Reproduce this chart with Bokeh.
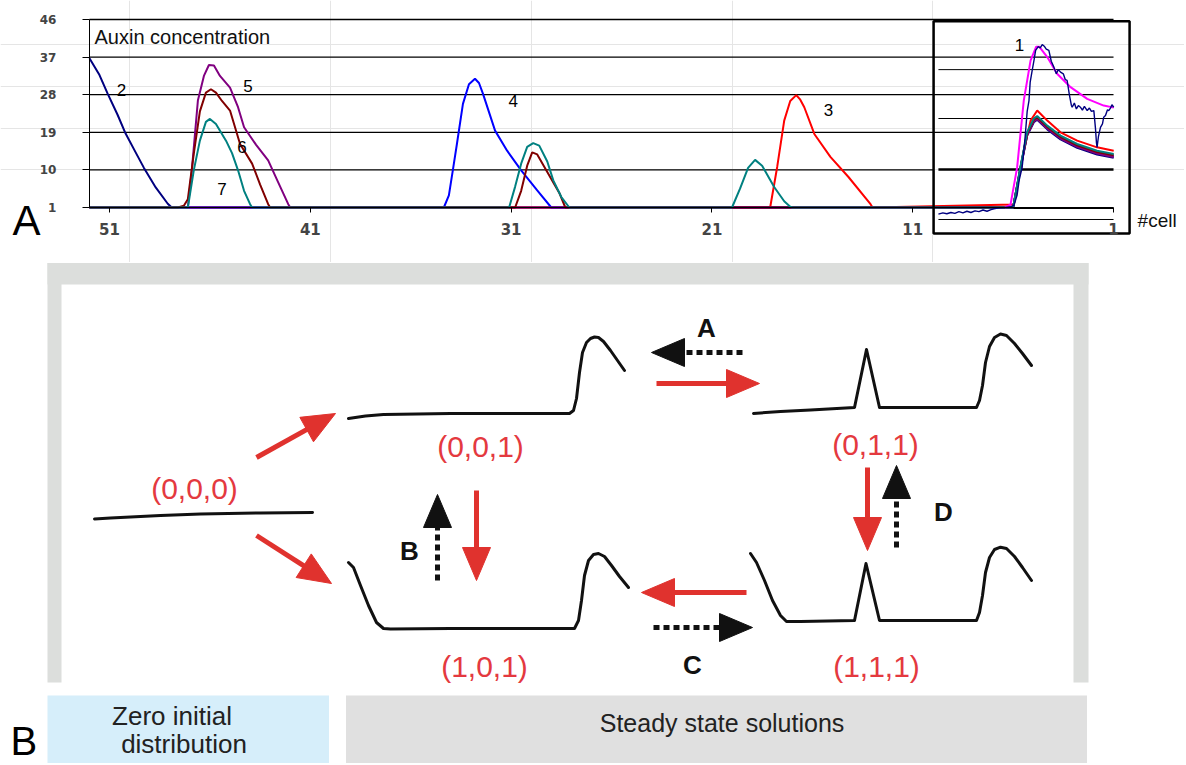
import math
from bokeh.plotting import figure
from bokeh.models import Range1d, LinearAxis, FixedTicker
from bokeh.layouts import column
from bokeh.core.properties import value
from bokeh.embed import file_html
from bokeh.resources import INLINE

FONT = "Liberation Sans"

# ---------------- Panel A : auxin concentration along the cell file ----------------
y_ticks = [1, 10, 19, 28, 37, 46]
x_ticks = [51, 41, 31, 21, 11, 1]

# simulated profiles (cell index, concentration)
cell_navy = [52.0, 51.5, 51.1, 50.6, 50.2, 49.7, 49.3, 48.7, 48.1, 47.9]
conc_navy = [36.7, 32.7, 28.3, 23.2, 18.7, 14.2, 10.6, 5.8, 1.9, 1.0]

cell_purple = [52.0, 47.1, 46.9, 46.6, 46.3, 46.05, 45.8, 45.5, 45.0, 44.6, 44.3, 43.7, 43.1, 42.6, 42.1, 42.0]
conc_purple = [1, 1, 10, 26.6, 32.5, 35.1, 35.0, 32.5, 29.7, 25.0, 20.2, 16.0, 12.3, 7.0, 1.8, 1.0]

cell_darkred = [52.0, 47.6, 47.3, 47.1, 46.8, 46.5, 46.2, 45.95, 45.7, 45.4, 45.0, 44.5, 43.9, 43.5, 43.1, 43.0,
                30.8, 30.5, 30.2, 29.95, 29.7, 29.2, 28.6, 28.3]
conc_darkred = [1, 1, 1.4, 3, 14, 24, 28.5, 29.3, 28.5, 26.5, 24.2, 16.2, 11.5, 6.5, 1.8, 1,
                1, 5, 11, 14.2, 13.7, 9.5, 4.5, 1]

cell_teal = [52.0, 47.1, 46.8, 46.5, 46.2, 46.0, 45.7, 45.2, 44.9, 44.6, 44.3, 44.0, 43.9,
             31.1, 30.8, 30.5, 30.2, 29.9, 29.6, 29.2, 28.9, 28.5, 28.1,
             20.0, 19.6, 19.2, 18.85, 18.5, 17.9, 17.4, 17.1, 17.0]
conc_teal = [1, 1, 10, 17, 21.5, 22.2, 21, 17, 14, 9.9, 5, 1.8, 1,
             1, 6, 11.5, 15.5, 16.4, 15.8, 12, 7.5, 3.5, 1,
             1, 5.5, 10.5, 12.4, 11, 5.9, 2.5, 1.2, 1]

cell_blue = [52.0, 34.35, 34.1, 33.9, 33.7, 33.4, 33.1, 32.8, 32.6, 32.4, 31.8, 31.2, 30.5, 29.7, 29.0]
conc_blue = [1, 1, 3.9, 10, 16.2, 25.8, 30.5, 31.8, 30.8, 28.2, 19.4, 14.6, 9.9, 5.1, 1]

cell_red = [52.0, 18.1, 17.75, 17.4, 17.1, 16.8, 16.6, 16.4, 15.9, 15.1, 14.2, 13.1, 13.0]
conc_red = [1, 1, 10.7, 21.8, 26.5, 27.9, 26.8, 25.0, 18.6, 13.1, 8.3, 1.8, 1.0]

# inset part (tip of the file)
inset_cells = [6.0, 5.63, 5.30, 4.97, 4.80, 4.30, 3.64, 2.81, 1.82, 0.99]
inset_teal = [1, 10.9, 19.0, 22.3, 22.9, 20.6, 18.2, 16.2, 14.6, 13.8]
inset_darkred = [1, 10.7, 18.7, 22.0, 22.6, 20.3, 17.9, 15.9, 14.3, 13.5]
inset_blue = [1, 10.6, 18.6, 21.8, 22.4, 20.1, 17.7, 15.7, 14.1, 13.3]
inset_purple = [1, 10.4, 18.4, 21.6, 22.2, 19.9, 17.5, 15.5, 13.9, 13.1]
inset_navy = [1, 10.3, 18.2, 21.4, 22.0, 19.7, 17.3, 15.3, 13.7, 12.9]

inset_red_cells = [5.96, 5.47, 5.13, 4.80, 4.30, 3.64, 2.81, 1.82, 0.99]
inset_red = [1.7, 14.6, 21.8, 24.2, 21.8, 19.0, 17.0, 15.4, 14.6]

cell_magenta = [6.4, 6.13, 5.80, 5.47, 5.13, 4.85, 4.70, 4.30, 3.81, 3.14, 2.31, 1.49, 0.99]
conc_magenta = [1, 1.7, 10.6, 26.6, 36.2, 39.5, 39.5, 37.0, 33.0, 29.8, 27.0, 25.4, 24.9]

# measured (noisy) profile in the inset
cell_exp = [9.72, 9.5, 9.3, 9.1, 8.9, 8.7, 8.5, 8.3, 8.1, 7.9, 7.7, 7.5, 7.3, 7.1, 6.96, 6.7, 6.4, 6.1,
            5.96, 5.8, 5.7, 5.55, 5.4, 5.3, 5.21, 5.15, 5.05, 4.95, 4.88, 4.75, 4.65, 4.55, 4.45, 4.35,
            4.22, 4.1, 3.97, 3.85, 3.75, 3.64, 3.5, 3.4, 3.31, 3.2, 3.1, 3.06, 2.95, 2.85, 2.75, 2.65,
            2.55, 2.45, 2.31, 2.2, 2.1, 1.98, 1.9, 1.85, 1.82, 1.75, 1.65, 1.55, 1.49, 1.4, 1.3, 1.24,
            1.15, 1.08, 0.99]
conc_exp = [-0.6, -0.3, -0.5, -0.2, -0.4, 0.0, -0.3, 0.1, -0.2, 0.2, 0.0, 0.4, 0.1, 0.5, 0.7, 0.9, 1.0, 1.2,
            1.5, 4.0, 7.5, 10.6, 18.0, 24.0, 26.6, 31.0, 33.8, 36.5, 38.6, 39.5, 39.2, 40.0, 39.6, 38.9,
            38.6, 36.0, 34.6, 33.0, 34.0, 33.4, 33.0, 31.6, 31.4, 28.0, 25.5, 25.0, 26.0, 24.6, 25.4, 25.0,
            24.3, 25.2, 24.2, 24.8, 24.0, 24.2, 20.0, 16.5, 15.4, 18.0, 20.2, 21.0, 22.6, 23.0, 24.4, 24.2,
            24.8, 25.6, 25.0]

curve_labels = ["2", "5", "6", "7", "4", "3", "1"]
curve_label_cell = [50.4, 44.1, 44.4, 45.4, 30.9, 15.2, 5.68]
curve_label_conc = [29.1, 30.1, 15.4, 5.5, 26.6, 24.3, 39.9]

inset_grid_levels = [34.0, 22.3, 10.1, 0.76, -1.87]
inset_grid_widths = [1, 1, 2.5, 1, 1]

# layout constants for panel A (data units)
X_LEFT, X_END = 52.0, 1.0
INSET_L, INSET_R, INSET_T, INSET_B = 9.96, 0.2, 45.6, -5.22
INSET_GRID_L = 9.72

W = 1184
pA = figure(width=W, height=262, x_range=Range1d(56.43, -2.535), y_range=Range1d(-12.164, 50.545),
            output_backend="svg", toolbar_location=None, x_axis_location=None, y_axis_location=None,
            min_border=0)
pA.outline_line_color = None
pA.background_fill_color = "white"
pA.border_fill_color = "white"

# horizontal grid lines
grid_levels = y_ticks[1:]
pA.segment(x0=[X_LEFT] * len(grid_levels),
           x1=[INSET_L if g == 10 else X_END for g in grid_levels],
           y0=grid_levels, y1=grid_levels, line_color="black", line_width=1.3)
pA.segment(x0=[INSET_GRID_L] * len(inset_grid_levels), x1=[X_END] * len(inset_grid_levels),
           y0=inset_grid_levels, y1=inset_grid_levels, line_color="black", line_width=inset_grid_widths)

# axes
yax = LinearAxis(fixed_location=X_LEFT, bounds=(1, 46), ticker=FixedTicker(ticks=y_ticks),
                 major_tick_out=7, major_tick_in=0, minor_tick_out=0, minor_tick_in=0,
                 major_label_standoff=26, major_label_text_font="DejaVu Sans",
                 major_label_text_font_style="bold", major_label_text_font_size="12px",
                 axis_line_color="black", major_tick_line_color="black")
pA.add_layout(yax, "left")
xax = LinearAxis(fixed_location=1, bounds=(1, X_LEFT), ticker=FixedTicker(ticks=x_ticks),
                 major_tick_out=5, major_tick_in=0, minor_tick_out=0, minor_tick_in=0,
                 major_label_standoff=10, major_label_text_font="DejaVu Sans",
                 major_label_text_font_style="bold", major_label_text_font_size="15px",
                 axis_line_color="black", major_tick_line_color="black")
pA.add_layout(xax, "below")

series = [
    (cell_navy + inset_cells, conc_navy + inset_navy, "#000080"),
    (cell_red + inset_red_cells, conc_red + inset_red, "#ff0000"),
    (cell_blue + inset_cells, conc_blue + inset_blue, "#0000ff"),
    (cell_purple + inset_cells, conc_purple + inset_purple, "#800080"),
    (cell_darkred + inset_cells, conc_darkred + inset_darkred, "#800000"),
    (cell_teal + inset_cells, conc_teal + inset_teal, "#008080"),
    (cell_magenta, conc_magenta, "#ff00ff"),
]
for xs, ys, col in series:
    pA.line(xs, ys, line_color=col, line_width=2)
pA.line(cell_exp, conc_exp, line_color="#000080", line_width=1.4)

# inset frame
pA.quad(left=[INSET_L], right=[INSET_R], top=[INSET_T], bottom=[INSET_B],
        fill_color=None, line_color="black", line_width=2.5)

pA.text(x=curve_label_cell, y=curve_label_conc, text=curve_labels, text_font=value(FONT),
        text_font_size="17px", text_align="center", text_baseline="middle", text_color="black")
pA.text(x=[51.75], y=[41.9], text=["Auxin concentration"], text_font=value(FONT),
        text_font_size="20px", text_align="left", text_baseline="middle", text_color="#111111")
pA.text(x=[-0.2], y=[-2.1], text=["#cell"], text_font=value(FONT),
        text_font_size="19px", text_align="left", text_baseline="middle", text_color="#111111")
pA.text(x=[55.83], y=[-2.1], text=["A"], text_font=value(FONT),
        text_font_size="42px", text_align="left", text_baseline="middle", text_color="black")

# ---------------- Panel B : schematic of steady states ----------------
state_labels = ["(0,0,0)", "(0,0,1)", "(1,0,1)", "(0,1,1)", "(1,1,1)"]
state_label_x = [194, 480, 484, 875, 876]
state_label_y = [488, 446, 666, 444, 666]

prof_000_x = [94, 110, 130, 160, 200, 260, 312]
prof_000_y = [518.5, 517.5, 516.5, 515, 513.5, 512.5, 512]
prof_001_x = [348, 365, 383, 450, 569, 573, 576, 579, 582, 586, 590, 594, 598, 603, 610, 617, 624]
prof_001_y = [418, 415.5, 414, 413, 413, 410, 398, 372, 352, 342, 338, 336.5, 337, 341, 350, 360, 370]
prof_101_x = [348, 353, 360, 368, 376, 383, 390, 450, 574, 578, 581, 584, 588, 593, 598, 604, 611, 619, 628]
prof_101_y = [562, 567, 585, 605, 622, 628, 628.5, 628, 628, 620, 600, 575, 560, 554, 553, 556, 565, 576, 587]
prof_011_x = [753, 780, 810, 854, 866, 879, 930, 976, 979, 982, 985, 989, 994, 1000, 1006, 1014, 1022, 1031]
prof_011_y = [413, 411, 409.5, 407, 349, 407, 407, 407, 400, 385, 362, 346, 337, 333.5, 335, 343, 353, 365]
prof_111_x = [750, 756, 764, 772, 780, 786, 800, 854, 865.5, 879, 930, 976, 979, 982, 985, 989, 994, 1000,
              1006, 1014, 1022, 1031]
prof_111_y = [553, 562, 580, 600, 615, 621, 621, 620, 563, 620, 620, 620, 612, 595, 572, 557, 549, 546.7,
              548, 556, 567, 580]

red_tail_x = [256, 256, 656, 476, 867, 746]
red_tail_y = [457, 535, 383, 490, 467, 592]
red_tip_x = [335, 331, 759, 476, 867, 641]
red_tip_y = [413, 583, 383, 580, 550, 592]
blk_tail_x = [742, 437, 653, 896]
blk_tail_y = [352, 580, 627, 547]
blk_tip_x = [651, 437, 752, 896]
blk_tip_y = [352, 494, 627, 465]

transition_labels = ["A", "B", "C", "D"]
transition_x = [706, 409, 692, 943]
transition_y = [327.5, 550, 664, 511]

strip_labels = ["Zero initial", "distribution", "Steady state solutions"]
strip_label_x = [171.5, 183.5, 721.5]
strip_label_y = [715, 743, 722]
strip_label_size = ["26px", "26px", "25px"]

RED = "#e0322e"
RED_TXT = "#e4393f"
BLK = "#111111"

pB = figure(width=W, height=501, x_range=Range1d(0, W), y_range=Range1d(763, 262),
            output_backend="svg", toolbar_location=None, x_axis_location=None, y_axis_location=None,
            min_border=0)
pB.outline_line_color = None
pB.background_fill_color = "white"
pB.border_fill_color = "white"
pB.grid.visible = False

# grey frame (open at the bottom)
pB.quad(left=[47, 47, 1073], right=[1088, 61, 1088], top=[262.5, 262.5, 262.5], bottom=[284, 682, 682],
        fill_color="#dcdedc", line_color=None)
# bottom strip
pB.quad(left=[47, 345.5], right=[328.5, 1086.5], top=[695, 695], bottom=[763, 763],
        fill_color=["#d6eefa", "#e0e0e0"], line_color=None)

for xs, ys in [(prof_000_x, prof_000_y), (prof_001_x, prof_001_y), (prof_101_x, prof_101_y),
               (prof_011_x, prof_011_y), (prof_111_x, prof_111_y)]:
    pB.line(xs, ys, line_color=BLK, line_width=3, line_join="round", line_cap="round")


def arrow_parts(tx, ty, hx, hy, head_len=33.0, head_w=28.0):
    sx0, sy0, sx1, sy1, px, py = [], [], [], [], [], []
    for a, b, c, d in zip(tx, ty, hx, hy):
        L = math.hypot(c - a, d - b)
        ux, uy = (c - a) / L, (d - b) / L
        nx, ny = -uy, ux
        bx, by = c - ux * head_len, d - uy * head_len
        sx0.append(a); sy0.append(b)
        sx1.append(bx + ux * 3); sy1.append(by + uy * 3)
        px.append([c, bx + nx * head_w / 2, bx - nx * head_w / 2])
        py.append([d, by + ny * head_w / 2, by - ny * head_w / 2])
    return sx0, sy0, sx1, sy1, px, py


s = arrow_parts(red_tail_x, red_tail_y, red_tip_x, red_tip_y)
pB.segment(x0=s[0], y0=s[1], x1=s[2], y1=s[3], line_color=RED, line_width=5)
pB.patches(xs=s[4], ys=s[5], fill_color=RED, line_color=RED, line_width=1)

s = arrow_parts(blk_tail_x, blk_tail_y, blk_tip_x, blk_tip_y)
pB.segment(x0=s[0], y0=s[1], x1=s[2], y1=s[3], line_color=BLK, line_width=5, line_dash="6 4")
pB.patches(xs=s[4], ys=s[5], fill_color=BLK, line_color=BLK, line_width=1)

pB.text(x=state_label_x, y=state_label_y, text=state_labels, text_font=value(FONT),
        text_font_size="30px", text_align="center", text_baseline="middle", text_color=RED_TXT)
pB.text(x=transition_x, y=transition_y, text=transition_labels, text_font=value(FONT),
        text_font_size="26px", text_font_style="bold", text_align="center", text_baseline="middle",
        text_color=BLK)
pB.text(x=strip_label_x, y=strip_label_y, text=strip_labels, text_font=value(FONT),
        text_font_size=strip_label_size, text_align="center", text_baseline="middle", text_color="#222222")
pB.text(x=[10], y=[740], text=["B"], text_font=value(FONT), text_font_size="40px",
        text_align="left", text_baseline="middle", text_color="black")

layout = column(pA, pB, spacing=0)
open("out.html", "w").write(file_html(layout, INLINE))
